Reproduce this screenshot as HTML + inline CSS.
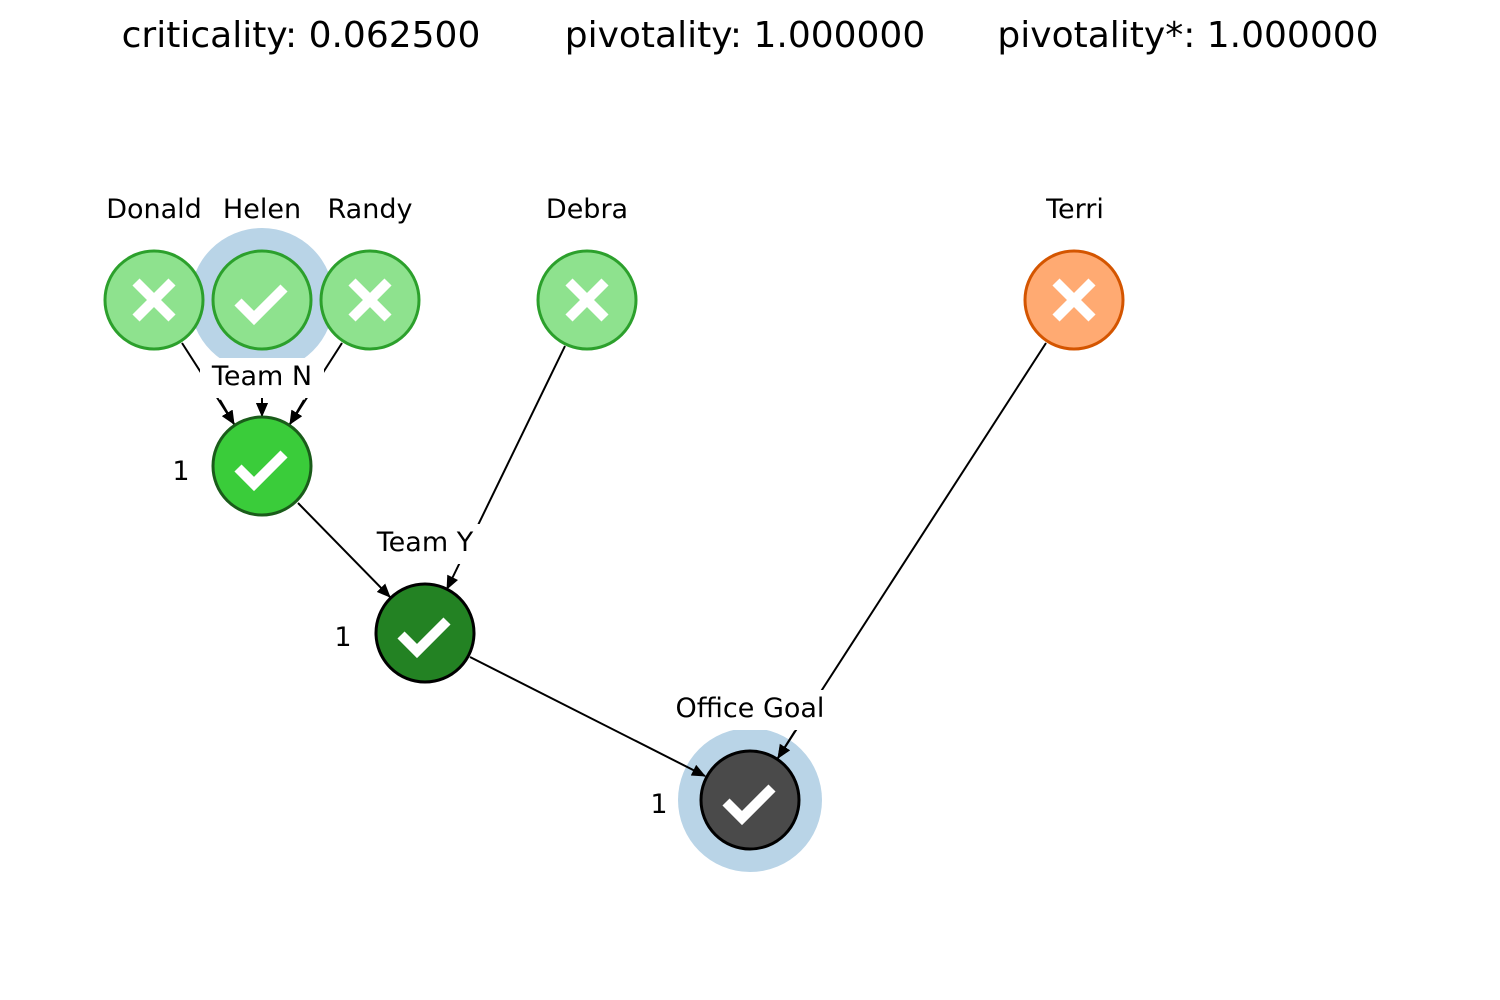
<!DOCTYPE html>
<html><head><style>body{margin:0;background:#fff}svg{display:block}text{font-family:"DejaVu Sans","Liberation Sans",sans-serif}</style></head>
<body>
<svg width="1500" height="1000" viewBox="0 0 1500 1000" xmlns="http://www.w3.org/2000/svg">
<defs>
<marker id="a" markerWidth="14" markerHeight="14" refX="13" refY="6" orient="auto" markerUnits="userSpaceOnUse"><path d="M0,0 L14,6 L0,12 z" fill="#000"/></marker>
<g id="chk"><polyline points="-24,2 -8,18 22,-12" fill="none" stroke="#fff" stroke-width="10"/></g>
<g id="x"><path d="M-18,-18 L18,18 M18,-18 L-18,18" stroke="#fff" stroke-width="10"/></g>
</defs>
<g font-size="36" text-anchor="middle" fill="#000">
<text x="301" y="47">criticality: 0.062500</text>
<text x="745" y="47">pivotality: 1.000000</text>
<text x="1188" y="47">pivotality*: 1.000000</text>
</g>
<circle cx="750" cy="800" r="72" fill="#b9d4e7"/>
<g stroke="#000" stroke-width="2" marker-end="url(#a)">
<line x1="182" y1="343" x2="234" y2="424"/>
<line x1="262" y1="350" x2="262" y2="416"/>
<line x1="342" y1="343" x2="290" y2="424"/>
<line x1="565" y1="346" x2="447" y2="589"/>
<line x1="298" y1="503" x2="390" y2="597"/>
<line x1="470" y1="657" x2="705" y2="776"/>
<line x1="1046" y1="343" x2="778" y2="758"/>
</g>
<circle cx="262" cy="300" r="72" fill="#b9d4e7"/>
<g font-size="27" text-anchor="middle">
<rect x="200" y="358" width="124" height="40" fill="#fff"/><text x="262" y="385">Team N</text>
<rect x="364" y="524" width="122" height="40" fill="#fff"/><text x="425" y="551">Team Y</text>
<rect x="668" y="690" width="164" height="40" fill="#fff"/><text x="750" y="717">Office Goal</text>
<text x="154" y="218">Donald</text><text x="262" y="218">Helen</text><text x="370" y="218">Randy</text>
<text x="587" y="218">Debra</text><text x="1075" y="218">Terri</text>
<text x="181" y="480">1</text><text x="343" y="646">1</text><text x="659" y="813">1</text>
</g>
<g stroke="#000" stroke-width="2" marker-end="url(#a)">
<line x1="262" y1="400" x2="262" y2="416"/>
<line x1="220" y1="400" x2="234" y2="424"/>
<line x1="304" y1="400" x2="290" y2="424"/>
<line x1="795" y1="731" x2="778" y2="758"/>
</g>
<g stroke-width="3">
<circle cx="154" cy="300" r="49" fill="#8ee28e" stroke="#2ca02c"/><use href="#x" x="154" y="300"/>
<circle cx="262" cy="300" r="49" fill="#8ee28e" stroke="#2ca02c"/><use href="#chk" x="262" y="300"/>
<circle cx="370" cy="300" r="49" fill="#8ee28e" stroke="#2ca02c"/><use href="#x" x="370" y="300"/>
<circle cx="587" cy="300" r="49" fill="#8ee28e" stroke="#2ca02c"/><use href="#x" x="587" y="300"/>
<circle cx="1074" cy="300" r="49" fill="#ffaa72" stroke="#d45500"/><use href="#x" x="1074" y="300"/>
<circle cx="262" cy="466" r="49" fill="#3acc3a" stroke="#1a5c1a"/><use href="#chk" x="262" y="466"/>
<circle cx="425" cy="633" r="49" fill="#238223" stroke="#000"/><use href="#chk" x="425" y="633"/>
<circle cx="750" cy="800" r="49" fill="#4a4a4a" stroke="#000"/><use href="#chk" x="750" y="800"/>
</g>
</svg>
</body></html>
